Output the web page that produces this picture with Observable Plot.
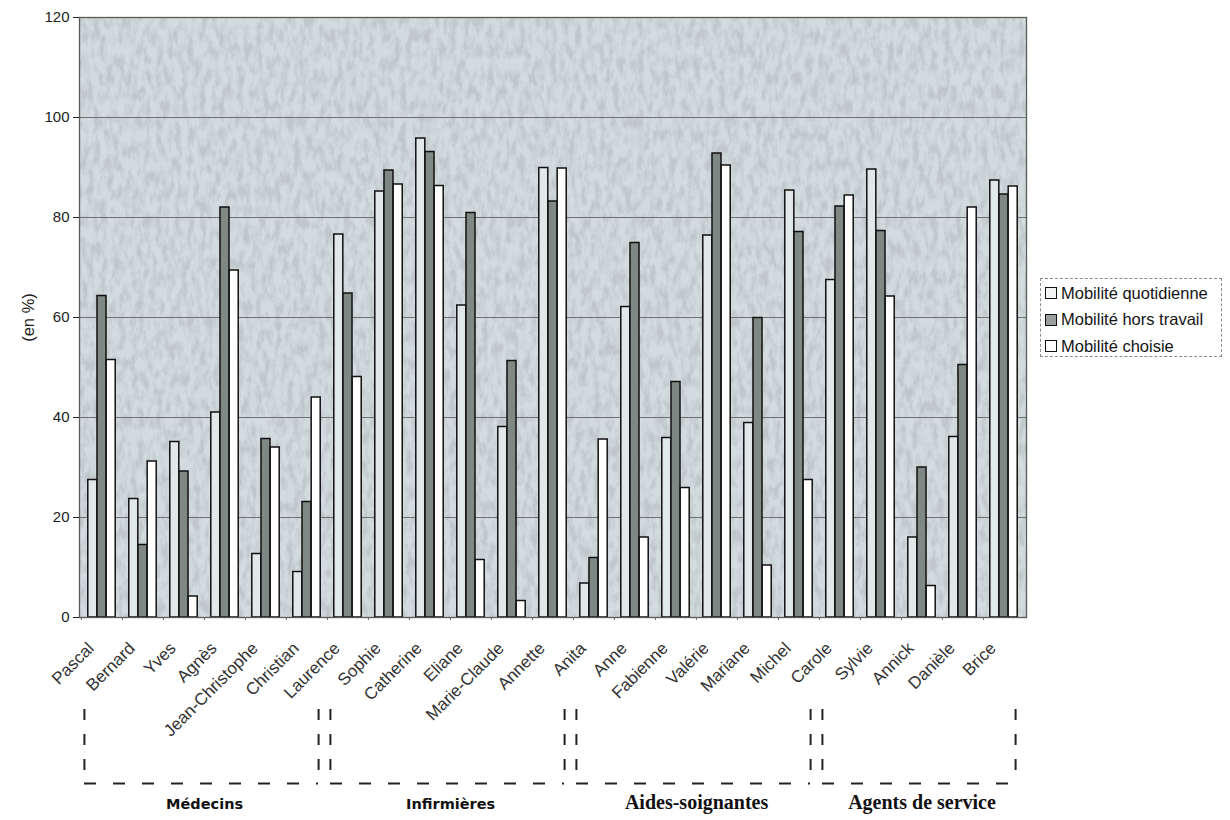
<!DOCTYPE html>
<html><head><meta charset="utf-8">
<script src="https://cdn.jsdelivr.net/npm/d3@7"></script>
<script src="https://cdn.jsdelivr.net/npm/@observablehq/plot@0.6"></script>
<style>
body{margin:0;background:#fff;}
#wrap{position:relative;width:1230px;height:820px;overflow:hidden;}
#legend{position:absolute;left:1040px;top:278px;width:182px;height:79px;border:1px dashed #8a8a8a;box-sizing:border-box;font:16.5px "Liberation Sans",Arial,sans-serif;color:#151515;padding:1px 0 0 4px;}
.item{display:flex;align-items:center;height:26.5px;white-space:nowrap;}
.sw{width:10px;height:10px;border:1.5px solid #111;margin-right:4px;flex:none;}
.grp-sans{font-family:"DejaVu Sans","Liberation Sans",Arial !important;font-size:14.5px !important;}
.grp-serif{font-family:"Liberation Serif","Times New Roman",serif !important;font-size:20px !important;}
</style></head><body><div id="wrap"><div id="chart"></div><div id="legend"></div></div>
<script>
const names = ["Pascal","Bernard","Yves","Agnès","Jean-Christophe","Christian","Laurence","Sophie","Catherine","Eliane","Marie-Claude","Annette","Anita","Anne","Fabienne","Valérie","Mariane","Michel","Carole","Sylvie","Annick","Danièle","Brice"];
const quotidienne = [27.5,23.7,35.1,41,12.7,9.1,76.6,85.2,95.8,62.4,38.1,89.9,6.8,62.1,35.9,76.4,38.9,85.4,67.5,89.6,16,36.1,87.4];
const horsTravail = [64.3,14.5,29.2,82,35.7,23.1,64.8,89.4,93.1,80.9,51.3,83.2,11.9,74.9,47.1,92.8,59.9,77.1,82.2,77.3,30,50.5,84.6];
const choisie = [51.5,31.2,4.2,69.4,34,44,48.1,86.6,86.3,11.5,3.3,89.8,35.6,16,25.9,90.4,10.4,27.5,84.4,64.2,6.3,82,86.2];
const seriesNames = ["Mobilité quotidienne","Mobilité hors travail","Mobilité choisie"];
const seriesFill = ["#e0e8ea","#7e8986","#ffffff"];
const legendFill = ["#f4f4f4","#9a9e9c","#ffffff"];
const yTicks = [0,20,40,60,80,100,120];
const groupLabels = ["Médecins","Infirmières","Aides-soignantes","Agents de service"];
const groupFirst = ["Pascal","Laurence","Anita","Carole"];
const groupLast = ["Christian","Annette","Michel","Brice"];
const groupFont = ["sans","sans","serif","serif"];

const W = 1230, H = 820, mL = 79, mR = 204, mT = 17, mB = 203;
const bw = (W - mL - mR) / names.length;
const barW = 9.2;
const inset = (bw - barW) / 2;

const rows = names.map((n, i) => ({name: n, q: quotidienne[i], h: horsTravail[i], c: choisie[i]}));
const groups = groupLabels.map((label, k) => {
  const i0 = names.indexOf(groupFirst[k]), i1 = names.indexOf(groupLast[k]);
  const m = (i0 + i1) / 2;
  return {label, first: groupFirst[k], last: groupLast[k], font: groupFont[k],
          midName: names[Math.floor(m)], midDx: (m - Math.floor(m)) * bw};
});

// bracket vertical extents in y units (below the zero line)
const bTop = -18.4, bBot = -33.2, bRightBot = -31.6;
const dash = "11,14";

const barOpts = (key, k) => ({x: "name", y: key, fill: seriesFill[k], stroke: "#111", strokeWidth: 1.5,
  insetLeft: inset, insetRight: inset, dx: (k - 1) * barW});

const chart = Plot.plot({
  width: W, height: H,
  marginLeft: mL, marginRight: mR, marginTop: mT, marginBottom: mB,
  style: {fontFamily: "'Liberation Sans', Arial, sans-serif", background: "transparent"},
  x: {domain: names, padding: 0},
  y: {domain: [0, 120]},
  marks: [
    Plot.frame({fill: "#d2dcdf"}),
    Plot.gridY(yTicks.filter(d => d > 0 && d < 120), {stroke: "#707070", strokeOpacity: 1, strokeWidth: 1}),
    Plot.barY(rows, barOpts("q", 0)),
    Plot.barY(rows, barOpts("h", 1)),
    Plot.barY(rows, barOpts("c", 2)),
    Plot.frame({stroke: "#5a5a5a", strokeWidth: 1.3}),
    Plot.axisY({ticks: yTicks, tickSize: 6, tickPadding: 4, fontSize: 15, color: "#222",
      label: "(en %)", labelAnchor: "center", labelOffset: 57, labelArrow: "none"}),
    Plot.axisX({tickRotate: -45, fontSize: 17, tickSize: 0, tickPadding: 13, dx: -11, dy: 15, color: "#333", label: null}),
    Plot.ruleX(names, {x: d => d, y1: 0, y2: -0.6, dx: -bw / 2, stroke: "#666", strokeWidth: 1}),
    // group brackets
    Plot.ruleX(groups, {x: "first", y1: bTop, y2: bBot, dx: -bw / 2 + 3, stroke: "#222", strokeWidth: 2, strokeDasharray: dash}),
    Plot.ruleX(groups, {x: "last", y1: bTop, y2: bRightBot, dx: bw / 2 - 9, stroke: "#222", strokeWidth: 2, strokeDasharray: dash}),
    Plot.ruleY(groups, {y: bBot, x1: "first", x2: "last", insetLeft: 3, insetRight: 9, stroke: "#222", strokeWidth: 2, strokeDasharray: "12,17"}),
    Plot.text(groups, {x: "midName", frameAnchor: "bottom", dy: 191,
      text: "label", fill: "#111", fontWeight: "bold", fontSize: 16})
  ]
});
document.getElementById("chart").appendChild(chart);

const svg = d3.select(chart);
// group labels: per-group font and half-band shift when the group has an even count
svg.selectAll("text").each(function() {
  const k = groupLabels.indexOf(this.textContent);
  if (k < 0) return;
  const g = groups[k];
  d3.select(this).attr("class", "grp-" + g.font).attr("dx", g.midDx);
});
svg.selectAll("text").filter(function() { return this.textContent === "(en %)"; })
  .style("font-size", "16.5px");

// paper texture on the plot background
const defs = svg.insert("defs", ":first-child");
const f = defs.append("filter").attr("id", "tex").attr("x", 0).attr("y", 0).attr("width", 1).attr("height", 1);
f.append("feTurbulence").attr("type", "fractalNoise").attr("baseFrequency", "0.16 0.07").attr("numOctaves", 4).attr("seed", 11).attr("result", "n");
f.append("feColorMatrix").attr("in", "n").attr("type", "matrix")
  .attr("values", "0 0 0 0 0.52  0 0 0 0 0.57  0 0 0 0 0.59  0 0 0 2.8 -1.05").attr("result", "spots");
f.append("feComposite").attr("in", "spots").attr("in2", "SourceGraphic").attr("operator", "atop");
svg.select('[aria-label="frame"]').attr("filter", "url(#tex)");

const legend = d3.select("#legend");
seriesNames.forEach((s, k) => {
  const it = legend.append("div").attr("class", "item");
  it.append("div").attr("class", "sw").style("background", legendFill[k]);
  it.append("span").text(s);
});
</script></body></html>
